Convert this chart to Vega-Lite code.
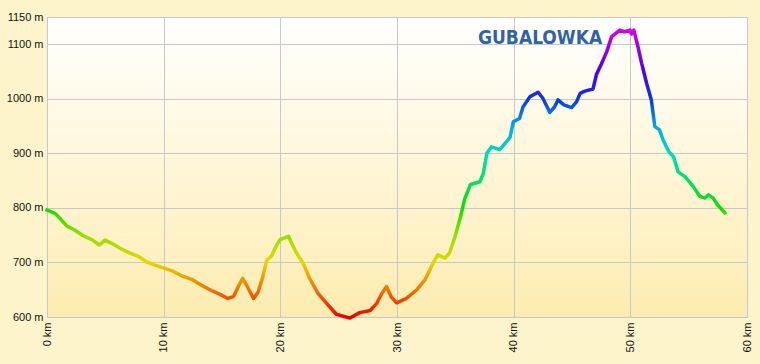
{
  "$schema": "https://vega.github.io/schema/vega-lite/v6.json",
  "width": 700,
  "height": 300,
  "autosize": "none",
  "padding": {"left": 47, "top": 17, "right": 13, "bottom": 47},
  "background": "#fef4cc",
  "config": {
    "view": {
      "stroke": null,
      "fill": {
        "gradient": "linear",
        "x1": 0, "y1": 0, "x2": 0, "y2": 1,
        "stops": [
          {"offset": 0, "color": "#ffffff"},
          {"offset": 0.45, "color": "#fff7dc"},
          {"offset": 1, "color": "#fdecb0"}
        ]
      }
    },
    "axis": {
      "labelFont": "Liberation Sans",
      "labelFontSize": 11,
      "labelColor": "#111111",
      "gridColor": "#c8c8cc",
      "gridOpacity": 1,
      "domainColor": "#c8c8cc",
      "ticks": false,
      "title": null
    }
  },
  "layer": [
    {
      "data": {
        "values": [
          {"km": 0, "ele": 796}, {"km": 0.69, "ele": 790}, {"km": 1.1, "ele": 781}, {"km": 1.69, "ele": 767},
          {"km": 2.4, "ele": 759}, {"km": 3.1, "ele": 749}, {"km": 3.83, "ele": 742}, {"km": 4.49, "ele": 732},
          {"km": 4.97, "ele": 741}, {"km": 5.54, "ele": 735}, {"km": 6.26, "ele": 726}, {"km": 7.11, "ele": 717},
          {"km": 7.83, "ele": 711}, {"km": 8.54, "ele": 701}, {"km": 9.26, "ele": 695}, {"km": 10.1, "ele": 689},
          {"km": 10.8, "ele": 684}, {"km": 11.5, "ele": 676}, {"km": 12.4, "ele": 669}, {"km": 13.1, "ele": 660},
          {"km": 13.97, "ele": 650}, {"km": 14.8, "ele": 642}, {"km": 15.5, "ele": 634}, {"km": 16.0, "ele": 638},
          {"km": 16.4, "ele": 656}, {"km": 16.77, "ele": 671}, {"km": 17.17, "ele": 656}, {"km": 17.7, "ele": 634},
          {"km": 18.1, "ele": 646}, {"km": 18.5, "ele": 674}, {"km": 18.83, "ele": 704}, {"km": 19.26, "ele": 712},
          {"km": 19.54, "ele": 726}, {"km": 19.97, "ele": 742}, {"km": 20.7, "ele": 748}, {"km": 20.97, "ele": 735},
          {"km": 21.4, "ele": 717}, {"km": 21.97, "ele": 698}, {"km": 22.5, "ele": 671}, {"km": 23.25, "ele": 643},
          {"km": 23.97, "ele": 625}, {"km": 24.8, "ele": 605}, {"km": 25.97, "ele": 598}, {"km": 26.8, "ele": 608},
          {"km": 27.7, "ele": 612}, {"km": 28.26, "ele": 625}, {"km": 28.7, "ele": 643}, {"km": 29.1, "ele": 656},
          {"km": 29.5, "ele": 637}, {"km": 29.97, "ele": 626}, {"km": 30.8, "ele": 634}, {"km": 31.7, "ele": 650},
          {"km": 32.4, "ele": 668}, {"km": 33.0, "ele": 695}, {"km": 33.5, "ele": 714}, {"km": 34.1, "ele": 708},
          {"km": 34.5, "ele": 717}, {"km": 34.97, "ele": 747}, {"km": 35.4, "ele": 780}, {"km": 35.8, "ele": 816},
          {"km": 36.3, "ele": 843}, {"km": 37.1, "ele": 848}, {"km": 37.4, "ele": 863}, {"km": 37.7, "ele": 900},
          {"km": 38.1, "ele": 912}, {"km": 38.8, "ele": 907}, {"km": 39.3, "ele": 919}, {"km": 39.7, "ele": 930},
          {"km": 39.97, "ele": 958}, {"km": 40.5, "ele": 964}, {"km": 40.8, "ele": 985}, {"km": 41.4, "ele": 1004},
          {"km": 42.1, "ele": 1012}, {"km": 42.5, "ele": 1001}, {"km": 43.1, "ele": 975}, {"km": 43.5, "ele": 985},
          {"km": 43.8, "ele": 998}, {"km": 44.3, "ele": 989}, {"km": 44.97, "ele": 984}, {"km": 45.4, "ele": 995},
          {"km": 45.7, "ele": 1010}, {"km": 46.1, "ele": 1014}, {"km": 46.8, "ele": 1018}, {"km": 47.1, "ele": 1045},
          {"km": 47.5, "ele": 1063}, {"km": 47.97, "ele": 1086}, {"km": 48.4, "ele": 1114}, {"km": 49.1, "ele": 1126},
          {"km": 49.5, "ele": 1123}, {"km": 49.97, "ele": 1126}, {"km": 50.1, "ele": 1119}, {"km": 50.3, "ele": 1126},
          {"km": 50.66, "ele": 1095}, {"km": 50.97, "ele": 1065}, {"km": 51.4, "ele": 1028}, {"km": 51.8, "ele": 998},
          {"km": 52.1, "ele": 949}, {"km": 52.5, "ele": 943}, {"km": 52.8, "ele": 925}, {"km": 53.3, "ele": 903},
          {"km": 53.7, "ele": 894}, {"km": 54.1, "ele": 866}, {"km": 54.7, "ele": 857}, {"km": 55.4, "ele": 839},
          {"km": 55.97, "ele": 821}, {"km": 56.4, "ele": 818}, {"km": 56.7, "ele": 824}, {"km": 57.1, "ele": 818},
          {"km": 57.5, "ele": 805}, {"km": 58.1, "ele": 791}
        ]
      },
      "mark": {
        "type": "line",
        "strokeWidth": 3.5,
        "strokeJoin": "round",
        "strokeCap": "square",
        "color": {
          "gradient": "linear",
          "x1": 0, "y1": 0, "x2": 0, "y2": 1,
          "stops": [
            {"offset": 0, "color": "#d400e8"},
            {"offset": 0.049, "color": "#a800e8"},
            {"offset": 0.144, "color": "#5000e8"},
            {"offset": 0.239, "color": "#0838e0"},
            {"offset": 0.333, "color": "#00a8ec"},
            {"offset": 0.428, "color": "#00dcb8"},
            {"offset": 0.523, "color": "#00e070"},
            {"offset": 0.617, "color": "#14dc00"},
            {"offset": 0.712, "color": "#94e000"},
            {"offset": 0.807, "color": "#e4d800"},
            {"offset": 0.902, "color": "#f07400"},
            {"offset": 1, "color": "#e80000"}
          ]
        }
      },
      "encoding": {
        "x": {
          "field": "km",
          "type": "quantitative",
          "scale": {"domain": [0, 60], "nice": false, "zero": false},
          "axis": {
            "values": [0, 10, 20, 30, 40, 50, 60],
            "labelExpr": "datum.value + ' km'",
            "labelAngle": 270,
            "labelPadding": 5
          }
        },
        "y": {
          "field": "ele",
          "type": "quantitative",
          "scale": {"domain": [600, 1150], "nice": false, "zero": false},
          "axis": {
            "values": [600, 700, 800, 900, 1000, 1100, 1150],
            "labelExpr": "datum.value + ' m'",
            "labelPadding": 4
          }
        }
      }
    },
    {
      "data": {"values": [{"label": "GUBALOWKA"}]},
      "mark": {
        "type": "text",
        "align": "left",
        "baseline": "alphabetic",
        "font": "DejaVu Sans Condensed",
        "fontSize": 19,
        "fontWeight": "bold",
        "color": "#3262a6"
      },
      "encoding": {
        "x": {"datum": 36.94, "type": "quantitative"},
        "y": {"datum": 1100.5, "type": "quantitative"},
        "text": {"field": "label"}
      }
    }
  ]
}
